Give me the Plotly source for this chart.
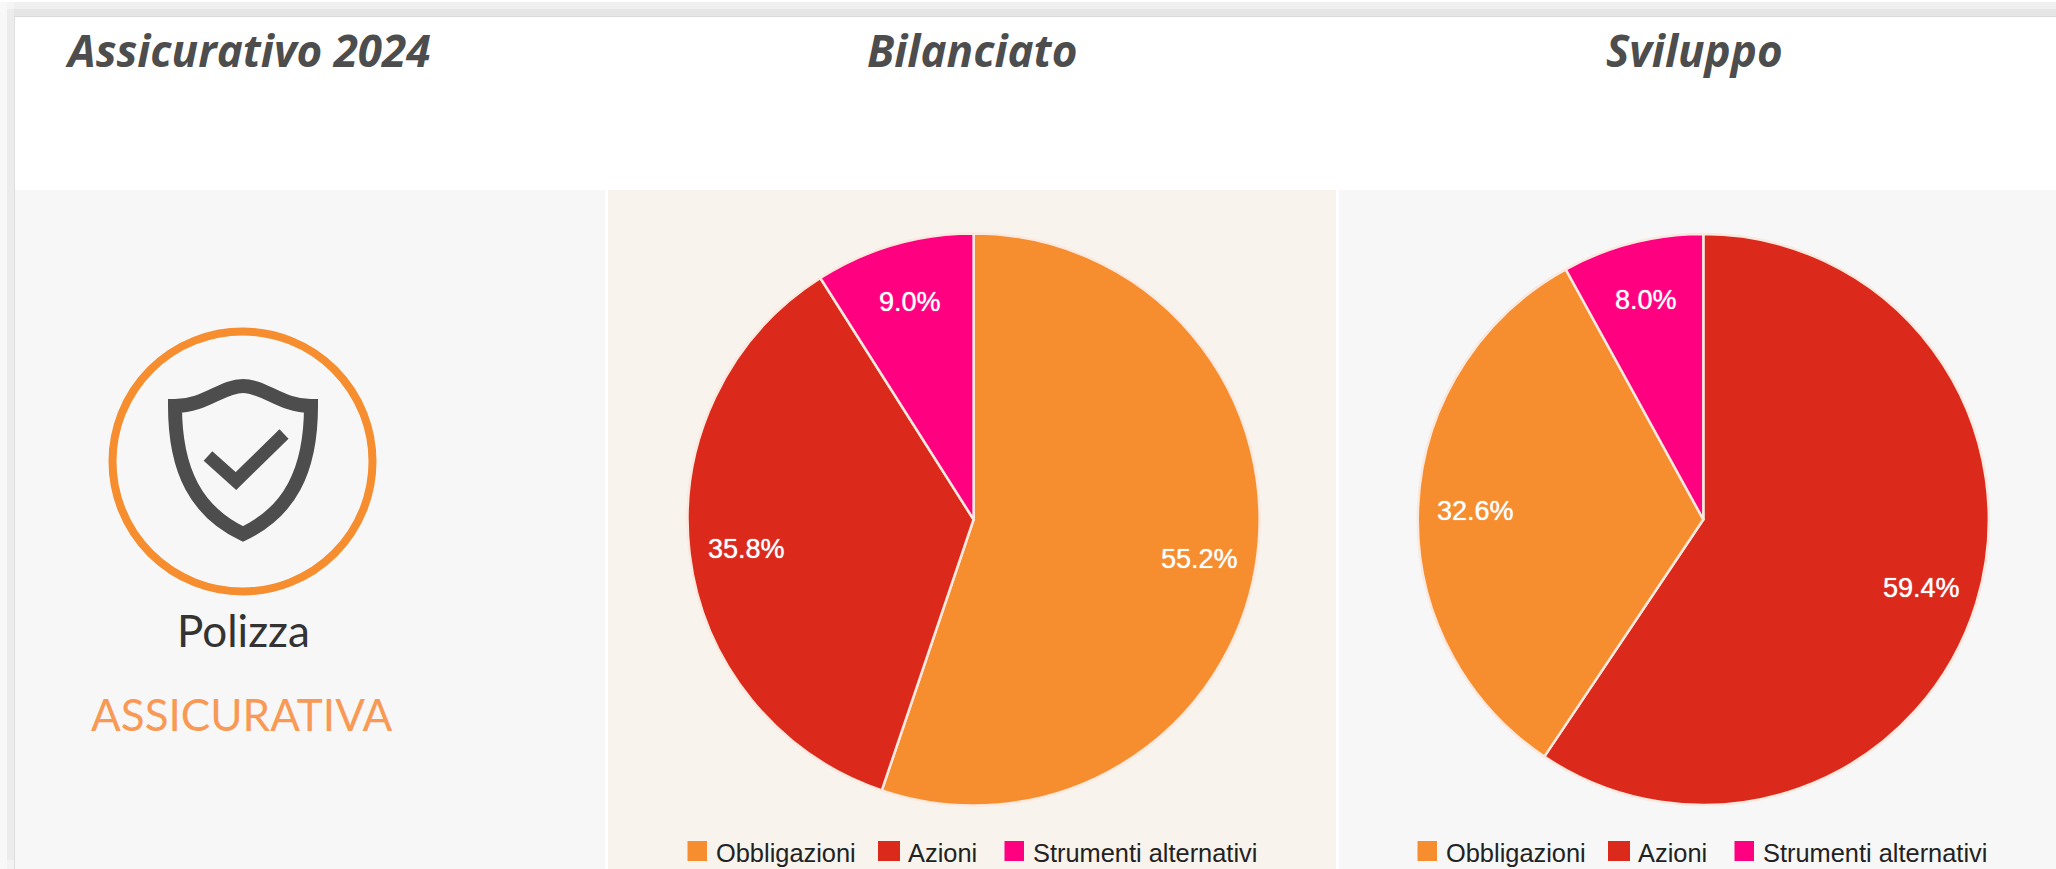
import math
import plotly.graph_objects as go

W, H = 2056, 869

# ---- data ----
categories = ["Obbligazioni", "Azioni", "Strumenti alternativi"]
bilanciato_values = [55.2, 35.8, 9.0]
sviluppo_values = [32.6, 59.4, 8.0]
sviluppo_order = [1, 0, 2]          # clockwise order of the slices in the second pie
titles = ["Assicurativo 2024", "Bilanciato", "Sviluppo"]
policy_lines = ["Polizza", "ASSICURATIVA"]

# ---- styles ----
ORANGE, RED, PINK = "#F68D2E", "#DB291B", "#FF0080"
colors = {"Obbligazioni": ORANGE, "Azioni": RED, "Strumenti alternativi": PINK}
INK = "#4D4D4D"
SANS = "Liberation Sans, Arial, sans-serif"
PANEL_GREY, PANEL_BEIGE = "#F7F7F7", "#F8F3ED"


def px(x):
    return x / W


def py(y):
    return 1 - y / H


def rect(x0, y0, x1, y1, fill):
    return dict(type="rect", xref="paper", yref="paper", layer="below",
                x0=px(x0), x1=px(x1), y0=py(y0), y1=py(y1),
                fillcolor=fill, line=dict(width=0))


def path_shape(points, line_color, width, fill="rgba(0,0,0,0)"):
    return dict(type="path", xref="x", yref="y", path=points, layer="above",
                line=dict(color=line_color, width=width), fillcolor=fill)


shapes = [
    # soft page shadow, top
    rect(14, 2, W, 9, "#F0F0F0"),
    rect(14, 9, W, 16, "#E5E5E5"),
    rect(14, 16, W, 17, "#DADADA"),
    # soft page shadow, left and corner
    rect(0, 2, 7, H, "#F8F8F8"),
    rect(7, 2, 14, 9, "#F4F4F4"),
    rect(7, 9, 14, H - 9, "#ECECEC"),
    rect(7, H - 9, 14, H, "#F3F3F3"),
    rect(14, 17, 15, H, "#DEDEDE"),
    # panels
    rect(15, 17, W, 190, "#FFFFFF"),
    rect(15, 190, 605, H, PANEL_GREY),
    rect(608, 190, 1336, H, PANEL_BEIGE),
    rect(1339, 190, W, H, PANEL_GREY),
    # icon ring
    dict(type="circle", xref="x", yref="y", layer="above",
         x0=242.5 - 130, x1=242.5 + 130, y0=461.5 - 130, y1=461.5 + 130,
         line=dict(color=ORANGE, width=8), fillcolor="rgba(0,0,0,0)"),
    # shield outline
    path_shape("M 175 406 C 205 406 222 386 243 386 C 264 386 281 406 311 406 "
               "C 311 472 289 512 243 534 C 197 512 175 472 175 406 Z", INK, 14),
    # check mark
    path_shape("M 208 456 L 236 481 L 284 434", INK, 13),
]

annotations = []


def add_text(text, x, y, size, color, family=SANS, xanchor="center", **font_kw):
    annotations.append(dict(text=text, x=px(x), y=py(y), xref="paper", yref="paper",
                            showarrow=False, xanchor=xanchor, yanchor="middle",
                            font=dict(size=size, color=color, family=family, **font_kw)))


TITLE_FONT = "Open Sans, sans-serif"
add_text(f"<b><i>{titles[0]}</i></b>", 63, 50, 44, INK, TITLE_FONT, xanchor="left")
add_text(f"<b><i>{titles[1]}</i></b>", 972, 50, 44, INK, TITLE_FONT)
add_text(f"<b><i>{titles[2]}</i></b>", 1694, 50, 44, INK, TITLE_FONT)
add_text(policy_lines[0], 243, 630, 44, "#333333", "Lato, sans-serif")
add_text(policy_lines[1], 241.5, 714, 44, "#F89A55", "Lato, sans-serif")

fig = go.Figure()


def add_pie(cats, vals, cx, cy, r, name):
    fig.add_trace(go.Pie(
        labels=cats, values=vals, name=name, sort=False, direction="clockwise", rotation=0,
        textinfo="none", showlegend=False,
        marker=dict(colors=[colors[c] for c in cats], line=dict(color="#FBE8DE", width=2.5)),
        domain=dict(x=[px(cx - r), px(cx + r)], y=[py(cy + r), py(cy - r)]),
    ))
    total = sum(vals)
    acc = 0.0
    for v in vals:
        mid = (acc + v / 2) / total * 2 * math.pi
        acc += v
        add_text(f"{v:.1f}%", cx + 0.8 * r * math.sin(mid), cy - 0.8 * r * math.cos(mid) + 2,
                 27, "#FFFFFF", shadow="0 0 1px #FFFFFF")


add_pie(categories, bilanciato_values, 973.6, 519.5, 286, titles[1])
add_pie([categories[i] for i in sviluppo_order], [sviluppo_values[i] for i in sviluppo_order],
        1703.3, 519.5, 285.5, titles[2])

# legends below each pie
for off in (0, 730):
    for cat, sw0, sw1, tx in zip(categories, (687.5, 878, 1004.5), (707, 900, 1024), (714, 905.5, 1030.5)):
        shapes.append(dict(type="rect", xref="paper", yref="paper", layer="above",
                           x0=px(sw0 + off), x1=px(sw1 + off), y0=py(861), y1=py(841),
                           fillcolor=colors[cat], line=dict(width=0)))
        add_text(cat, tx + off, 852.5, 25.4, "#222222", xanchor="left")

fig.update_layout(
    width=W, height=H, autosize=False,
    margin=dict(l=0, r=0, t=0, b=0, pad=0),
    paper_bgcolor="#FFFFFF", plot_bgcolor="rgba(0,0,0,0)",
    xaxis=dict(range=[0, W], visible=False, domain=[0, 1], fixedrange=True),
    yaxis=dict(range=[H, 0], visible=False, domain=[0, 1], fixedrange=True),
    shapes=shapes, annotations=annotations,
)

fig.write_html("out.html", config={"displayModeBar": False},
               post_script="document.body.style.margin='0';document.body.style.overflow='hidden';")
